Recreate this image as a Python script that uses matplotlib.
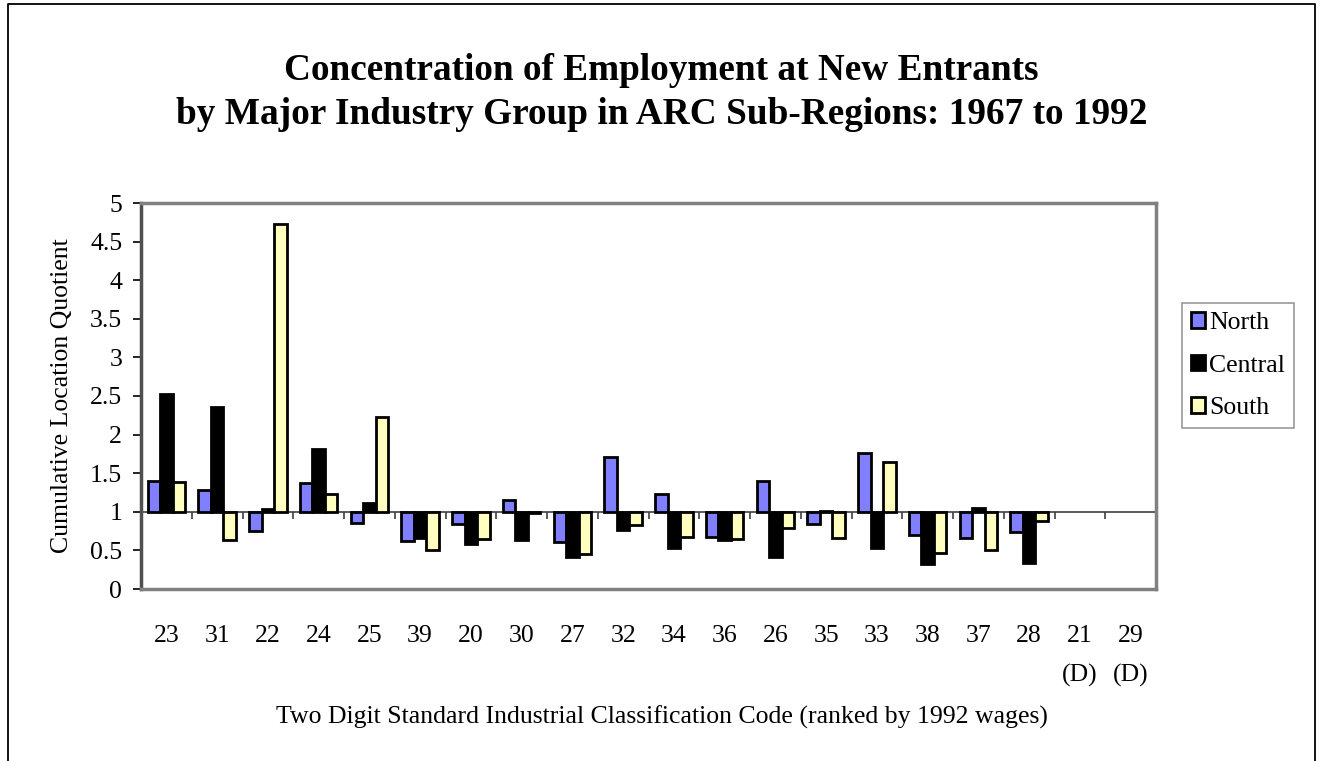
import matplotlib
matplotlib.use("Agg")
import matplotlib.pyplot as plt
import numpy as np
from matplotlib.patches import Patch
from matplotlib.lines import Line2D

# Two digit SIC codes, ranked by 1992 wages
codes = ["23", "31", "22", "24", "25", "39", "20", "30", "27", "32",
         "34", "36", "26", "35", "33", "38", "37", "28", "21\n(D)", "29\n(D)"]

# Cumulative location quotients (nan = disclosure suppressed)
north = [1.40, 1.28, 0.75, 1.37, 0.85, 0.62, 0.84, 1.15, 0.61, 1.71,
         1.23, 0.68, 1.40, 0.84, 1.76, 0.70, 0.66, 0.74, np.nan, np.nan]
central = [2.52, 2.36, 1.03, 1.81, 1.11, 0.66, 0.58, 0.63, 0.42, 0.77,
           0.53, 0.63, 0.42, 1.01, 0.53, 0.32, 1.05, 0.34, np.nan, np.nan]
south = [1.39, 0.63, 4.73, 1.23, 2.23, 0.51, 0.65, 0.99, 0.45, 0.83,
         0.68, 0.65, 0.79, 0.66, 1.64, 0.46, 0.50, 0.88, np.nan, np.nan]

series = [("North", north, "#8080FF"),
          ("Central", central, "#000000"),
          ("South", south, "#FFFFC0")]

plt.rcParams["font.family"] = ["Liberation Serif", "DejaVu Serif"]
FS = 18.5

W, H = 1323, 761
fig = plt.figure(figsize=(W / 100, H / 100), dpi=100)
ax = fig.add_axes([141 / W, 1 - 589 / H, (1156 - 141) / W, (589 - 203) / H])

x = np.arange(len(codes))
bw = 0.245
baseline = 1.0
for i, (name, vals, color) in enumerate(series):
    v = np.array(vals, dtype=float)
    ax.bar(x + (i - 1) * bw, v - baseline, bottom=baseline, width=bw,
           color=color, edgecolor="black", linewidth=2, zorder=3)

# category axis crosses at 1
ax.axhline(baseline, color="#404040", lw=1.2, zorder=2)
bounds = np.arange(len(codes) + 1) - 0.5
ax.vlines(bounds, baseline - 0.09, baseline, color="#404040", lw=1.2, zorder=2)

ax.set_xlim(-0.5, len(codes) - 0.5)
ax.set_ylim(0, 5)
ax.set_yticks(np.arange(0, 5.01, 0.5))
ax.set_yticklabels(["0", "0.5", "1", "1.5", "2", "2.5", "3", "3.5", "4", "4.5", "5"])
ax.set_xticks(x)
ax.set_xticklabels(codes, linespacing=1.93, va="top")
ax.tick_params(axis="x", length=0, pad=26, labelsize=FS)
ax.tick_params(axis="y", direction="out", length=5.5, width=1.2, labelsize=FS, pad=8)

for side in ["top", "right", "bottom"]:
    ax.spines[side].set_color("#808080")
    ax.spines[side].set_linewidth(2.5)
ax.spines["left"].set_color("#505050")
ax.spines["left"].set_linewidth(2.5)

fig.text(62 / W, 1 - 396 / H, "Cumulative Location Quotient", rotation=90,
         ha="center", va="center", fontsize=FS)

fig.text(0.5, 1 - 70 / H, "Concentration of Employment at New Entrants",
         ha="center", va="center", fontsize=26.8, fontweight="bold")
fig.text(0.5, 1 - 115 / H, "by Major Industry Group in ARC Sub-Regions: 1967 to 1992",
         ha="center", va="center", fontsize=26.8, fontweight="bold")
fig.text(0.5, 1 - 717 / H,
         "Two Digit Standard Industrial Classification Code (ranked by 1992 wages)",
         ha="center", va="center", fontsize=FS)

handles = [Patch(facecolor=c, edgecolor="black", linewidth=2, label=n)
           for n, _, c in series]
leg = fig.legend(handles=handles, loc="upper left",
                 bbox_to_anchor=(1182 / W, 1 - 303 / H),
                 fontsize=FS, frameon=True, fancybox=False, edgecolor="#808080",
                 handlelength=0.55, handleheight=0.55, handletextpad=0.15,
                 borderpad=0.35, labelspacing=0.8, borderaxespad=0)
leg.get_frame().set_linewidth(1.2)

# outer frame
fx = [8 / W, 8 / W, 1315 / W, 1315 / W]
fy = [0, 1 - 4 / H, 1 - 4 / H, 0]
fig.add_artist(Line2D(fx, fy, color="black", lw=1.3, transform=fig.transFigure))

fig.savefig("out.png", dpi=100, facecolor="white")
